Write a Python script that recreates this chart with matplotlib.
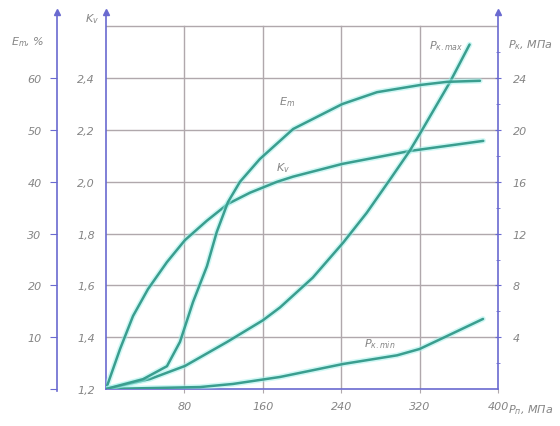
import matplotlib
matplotlib.use("Agg")
import matplotlib.pyplot as plt

# ---- data ----
k_x = [0, 14.3, 27.6, 42.9, 62.2, 80.6, 103, 124.5, 147, 174.5, 191, 241, 310, 385]
k_y = [1.2, 1.354, 1.482, 1.586, 1.690, 1.775, 1.850, 1.915, 1.958, 2.000, 2.020, 2.069, 2.119, 2.158]

em_x = [0, 37.8, 62.2, 75.5, 88.8, 103, 113, 124.5, 136.7, 157, 191, 241, 276.5, 321, 348, 381.6]
em_y = [0, 1.9, 4.4, 9.1, 16.8, 23.7, 30.3, 36.1, 40.0, 44.4, 50.2, 55.0, 57.3, 58.7, 59.3, 59.5]

pmax_x = [0, 44.9, 80.6, 123.5, 160, 177.6, 211, 242, 266, 290, 310, 321, 351, 371]
pmax_y = [0, 0.77, 1.78, 3.63, 5.3, 6.3, 8.6, 11.3, 13.6, 16.2, 18.4, 19.8, 23.7, 26.6]

pmin_x = [0, 96, 129.6, 177.6, 241.8, 297, 320, 348, 384.7]
pmin_y = [0, 0.15, 0.39, 0.93, 1.93, 2.6, 3.09, 4.09, 5.41]

x_ticks = [80, 160, 240, 320, 400]
k_ticks = [1.2, 1.4, 1.6, 1.8, 2.0, 2.2, 2.4]
k_labels = ["1,2", "1,4", "1,6", "1,8", "2,0", "2,2", "2,4"]
e_ticks = [0, 10, 20, 30, 40, 50, 60]
e_labels = ["", "10", "20", "30", "40", "50", "60"]
p_ticks = [4, 8, 12, 16, 20, 24]

# ---- style ----
BLUE = "#6a6ad0"
GRID = "#b0a8ac"
LINE = "#3a9e8f"
HALO = "#9ff0ea"
TXT = "#858585"
FS = 8

fig = plt.figure(figsize=(5.6, 4.27), dpi=100)
L, R, B, T = 106/560, 498/560, 1-390/427, 1-13/427
ax = fig.add_axes([L, B, R-L, T-B])
KTOP = 1.2 + 377/259.0
ax.set_xlim(0, 400)
ax.set_ylim(1.2, KTOP)
axP = ax.twinx()
axP.set_ylim(0, (KTOP-1.2)*20)
axE = ax.twinx()
axE.set_ylim(0, (KTOP-1.2)*50)

for a in (ax, axP, axE):
    for s in a.spines.values():
        s.set_visible(False)
    a.set_xlim(0, 400)

# grid lines
for yk in k_ticks[1:] + [2.6]:
    ax.plot([0, 400], [yk, yk], color=GRID, lw=1, zorder=1)
for xv in x_ticks[:-1]:
    ax.plot([xv, xv], [1.2, 2.6], color=GRID, lw=1, zorder=1)

# spines
ax.spines['left'].set_visible(True)
ax.spines['left'].set_color(BLUE)
ax.spines['bottom'].set_visible(True)
ax.spines['bottom'].set_color(BLUE)
axP.spines['right'].set_visible(True)
axP.spines['right'].set_color(BLUE)
axE.spines['left'].set_visible(True)
axE.spines['left'].set_color(BLUE)
axE.spines['left'].set_position(('axes', (57-106)/392.0))
axE.spines['left'].set_bounds(-0.3, (KTOP-1.2)*50)
for s in (ax.spines['left'], ax.spines['bottom'], axP.spines['right'], axE.spines['left']):
    s.set_linewidth(1.2)

# arrows on top of vertical spines
for xa in [0.0, 1.0, (57-106)/392.0]:
    ax.plot([xa], [1.0], marker="^", ms=4, color=BLUE, transform=ax.transAxes, clip_on=False, zorder=5)

# ticks
ax.set_xticks(x_ticks)
ax.set_xticklabels([str(v) for v in x_ticks])
ax.tick_params(axis='x', colors=GRID, labelcolor=TXT, length=3, labelsize=FS, pad=6)
ax.set_yticks(k_ticks)
ax.set_yticklabels(k_labels)
ax.tick_params(axis='y', length=0, labelcolor=TXT, labelsize=FS, pad=8)
axP.set_yticks(p_ticks)
axP.set_yticks([2, 6, 10, 14, 18, 22, 26], minor=True)
axP.tick_params(axis='y', which='major', direction='inout', length=5, colors=BLUE, labelcolor=TXT, labelsize=FS, pad=8)
axP.tick_params(axis='y', which='minor', direction='inout', length=3, colors=BLUE)
axE.yaxis.set_ticks_position('left')
axE.yaxis.set_label_position('left')
axE.set_yticks(e_ticks)
axE.set_yticklabels(e_labels)
axE.tick_params(axis='y', direction='out', length=5, colors=BLUE, labelcolor=TXT, labelsize=FS, pad=6)
for a in (ax, axP, axE):
    for lab in a.get_xticklabels() + a.get_yticklabels():
        lab.set_style('italic')

# curves
hk = dict(color=HALO, lw=4, alpha=0.5, solid_capstyle='round', solid_joinstyle='round', zorder=3)
kw = dict(color=LINE, lw=1.8, solid_capstyle='round', solid_joinstyle='round', zorder=4)
for a, xs, ys in ((ax, k_x, k_y), (axE, em_x, em_y), (axP, pmax_x, pmax_y), (axP, pmin_x, pmin_y)):
    a.plot(xs, ys, **hk)
    a.plot(xs, ys, **kw)

# axis titles and curve labels
tk = dict(color=TXT, fontsize=FS, style='italic')
fig.text(28/560, 1-42/427, "$E_m$, %", ha='center', va='center', **tk)
fig.text(92/560, 1-19/427, "$K_v$", ha='center', va='center', **tk)
fig.text(530/560, 1-45/427, "$P_к$, МПа", ha='center', va='center', **tk)
fig.text(531/560, 1-410/427, "$P_п$, МПа", ha='center', va='center', **tk)
fig.text(287/560, 1-102/427, "$E_m$", ha='center', va='center', **tk)
fig.text(283/560, 1-168/427, "$K_v$", ha='center', va='center', **tk)
fig.text(446/560, 1-46/427, "$P_{к.max}$", ha='center', va='center', **tk)
fig.text(380/560, 1-344/427, "$P_{к.min}$", ha='center', va='center', **tk)

fig.savefig("out.png", dpi=100)
